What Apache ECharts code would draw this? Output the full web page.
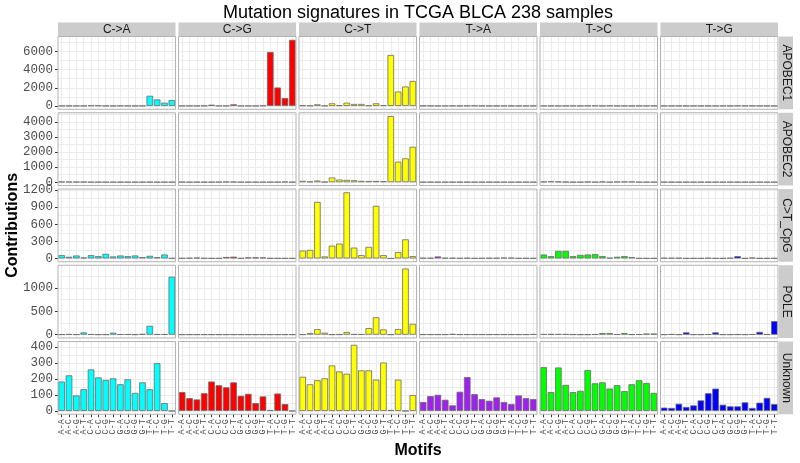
<!DOCTYPE html>
<html>
<head>
<meta charset="utf-8">
<script src="https://cdn.jsdelivr.net/npm/echarts@6/dist/echarts.min.js"></script>
<style>html,body{margin:0;padding:0;background:#fff}#chart{width:800px;height:463px}</style>
</head>
<body>
<div id="chart"></div>
<script>
// ---- categories / labels ----
const motifs = ["A-A","A-C","A-G","A-T","C-A","C-C","C-G","C-T","G-A","G-C","G-G","G-T","T-A","T-C","T-G","T-T"];
const mutations = ["C->A","C->G","C->T","T->A","T->C","T->G"];
const signatures = ["APOBEC1","APOBEC2","C>T_CpG","POLE","Unknown"];

// ---- values (rows = signatures, one array per mutation type) ----
const APOBEC1_CA = [10,8,10,8,45,40,10,8,25,10,8,10,1120,720,360,650];
const APOBEC1_CG = [15,10,10,20,140,15,10,180,10,10,15,40,5940,2030,870,7280];
const APOBEC1_CT = [60,30,180,30,290,80,360,220,220,60,290,80,5610,1590,2140,2750];
const APOBEC1_TA = [20,15,10,15,10,10,20,30,15,10,10,15,10,10,15,10];
const APOBEC1_TC = [15,10,10,10,15,10,20,35,10,30,10,15,10,10,15,20];
const APOBEC1_TG = [10,10,10,8,10,8,8,10,10,10,25,20,10,10,8,10];

const APOBEC2_CA = [30,30,20,25,10,10,10,10,15,10,10,10,15,10,10,10];
const APOBEC2_CG = [20,10,10,10,10,15,30,25,10,10,10,10,10,10,30,10];
const APOBEC2_CT = [90,45,110,20,310,175,155,130,90,80,80,70,4400,1365,1585,2355];
const APOBEC2_TA = [10,10,10,10,10,10,10,10,10,10,10,10,10,10,10,10];
const APOBEC2_TC = [40,60,50,20,10,10,30,10,40,10,30,40,35,10,10,10];
const APOBEC2_TG = [10,8,8,10,10,10,8,8,10,10,10,10,10,8,8,10];

const CpG_CA = [58,29,52,17,58,40,81,35,52,40,52,23,46,23,69,5];
const CpG_CG = [5,10,15,5,3,3,25,30,5,18,20,18,5,3,3,3];
const CpG_CT = [138,150,992,35,225,260,1160,190,58,202,923,58,0,110,335,40];
const CpG_TA = [10,10,35,10,10,5,10,5,5,8,8,15,12,5,5,5];
const CpG_TC = [69,40,133,133,40,63,69,75,40,12,29,40,23,3,3,3];
const CpG_TG = [10,10,10,3,3,3,8,3,3,10,40,3,15,3,3,3];

const POLE_CA = [5,10,5,49,8,3,3,42,8,8,3,15,190,10,10,1240];
const POLE_CG = [3,3,3,3,3,3,3,3,3,3,3,3,3,3,3,3];
const POLE_CT = [5,35,120,42,3,5,56,10,10,141,373,113,3,120,1415,232];
const POLE_TA = [5,5,5,5,15,5,5,5,5,5,5,5,5,5,5,10];
const POLE_TC = [10,12,12,10,5,3,3,8,35,35,8,35,5,8,25,25];
const POLE_TG = [3,10,3,50,3,3,8,50,3,3,5,3,8,60,10,290];

const Unknown_CA = [184,223,97,136,260,210,194,204,167,198,113,179,136,299,49,0];
const Unknown_CG = [118,80,72,111,184,161,148,179,95,107,49,91,6,109,43,0];
const Unknown_CT = [214,167,192,204,285,247,233,414,254,254,196,303,6,196,0,99];
const Unknown_TA = [56,93,101,70,35,120,212,105,74,64,85,56,43,97,80,74];
const Unknown_TC = [274,118,272,163,118,126,256,173,179,140,161,124,167,192,175,113];
const Unknown_TG = [21,19,45,25,35,66,111,140,39,29,29,54,19,52,82,43];

// ---- y tick labels per row ----
const ticksAPOBEC1 = [0,2000,4000,6000];
const ticksAPOBEC2 = [0,1000,2000,3000,4000];
const ticksCpG = [0,300,600,900,1200];
const ticksPOLE = [0,500,1000];
const ticksUnknown = [0,100,200,300,400];

const rowValues = [
  [APOBEC1_CA,APOBEC1_CG,APOBEC1_CT,APOBEC1_TA,APOBEC1_TC,APOBEC1_TG],
  [APOBEC2_CA,APOBEC2_CG,APOBEC2_CT,APOBEC2_TA,APOBEC2_TC,APOBEC2_TG],
  [CpG_CA,CpG_CG,CpG_CT,CpG_TA,CpG_TC,CpG_TG],
  [POLE_CA,POLE_CG,POLE_CT,POLE_TA,POLE_TC,POLE_TG],
  [Unknown_CA,Unknown_CG,Unknown_CT,Unknown_TA,Unknown_TC,Unknown_TG]
];
const rowTicks = [ticksAPOBEC1,ticksAPOBEC2,ticksCpG,ticksPOLE,ticksUnknown];

// ---- styles / layout ----
const colors = ['#00FFFF','#FF0000','#FFFF00','#A020F0','#00FF00','#0000FF'];
const L = {left0:58, colStep:120.5, panelW:117.5, top0:36.5, rowStep:76.25, panelH:72.75,
           stripTop:22.5, stripH:13.5, rstripX:779, rstripW:14};
const gridColor = '#ebebeb';
const tickTextColor = '#4d4d4d';

const grids = [], xAxes = [], yAxes = [], series = [], graphics = [];

for (let r = 0; r < signatures.length; r++) {
  const ticks = rowTicks[r];
  const majorStep = ticks[1] - ticks[0];
  let M = 0;
  rowValues[r].forEach(a => a.forEach(v => { if (v > M) M = v; }));
  const top = L.top0 + r * L.rowStep;
  for (let c = 0; c < mutations.length; c++) {
    const left = L.left0 + c * L.colStep;
    // background panel (border, vertical grid lines, x labels)
    const bg = grids.length;
    grids.push({left, top, width:L.panelW, height:L.panelH, show:true,
      backgroundColor:'transparent', borderColor:'#b3b3b3', borderWidth:1, z:10});
    xAxes.push({type:'category', gridIndex:bg, data:motifs, boundaryGap:true,
      axisLine:{show:false},
      axisTick:{show:r===signatures.length-1, alignWithLabel:true, length:3, lineStyle:{color:'#333'}},
      axisLabel:{show:r===signatures.length-1, rotate:90, interval:0, hideOverlap:false,
        fontFamily:'Liberation Mono', fontSize:8.5, color:tickTextColor, margin:5},
      splitLine:{show:true, alignWithLabel:true, interval:0, lineStyle:{color:gridColor, width:1}}});
    yAxes.push({type:'value', gridIndex:bg, show:false});
    // data grid (from zero line to panel top)
    const dg = grids.length;
    const dataH = L.panelH * 1.05 / 1.1;
    grids.push({left, top, width:L.panelW, height:dataH, show:false});
    const dX = xAxes.length;
    xAxes.push({type:'category', gridIndex:dg, data:motifs, boundaryGap:true, show:false});
    const dY = yAxes.length;
    yAxes.push({type:'value', gridIndex:dg, min:0, max:1.05*M, interval:majorStep/2,
      axisLine:{show:false}, axisTick:{show:false}, axisLabel:{show:false},
      splitLine:{show:true, showMaxLine:false, lineStyle:{color:gridColor, width:1}}});
    if (c === 0) {
      yAxes.push({type:'value', gridIndex:dg, min:0, max:1.05*M, position:'left',
        axisLine:{show:false}, splitLine:{show:false},
        axisTick:{show:true, length:3, customValues:ticks, lineStyle:{color:'#333'}},
        axisLabel:{show:true, customValues:ticks, formatter:v => String(v),
          fontFamily:'Liberation Mono', fontSize:12.5, color:tickTextColor, margin:5}});
    }
    series.push({type:'bar', xAxisIndex:dX, yAxisIndex:dY, data:rowValues[r][c],
      barWidth:'90%', silent:true,
      itemStyle:{color:colors[c], borderColor:'#6b6b6b', borderWidth:0.8}});
  }
  // right strip
  graphics.push({type:'rect', shape:{x:L.rstripX, y:top, width:L.rstripW, height:L.panelH},
    style:{fill:'#cccccc'}});
  graphics.push({type:'text', x:L.rstripX + L.rstripW/2, y:top + L.panelH/2, rotation:-Math.PI/2,
    style:{text:signatures[r], fontSize:12, fontFamily:'Liberation Sans', fill:'#1a1a1a',
      align:'center', verticalAlign:'middle'}});
}
for (let c = 0; c < mutations.length; c++) {
  const left = L.left0 + c * L.colStep;
  graphics.push({type:'rect', shape:{x:left, y:L.stripTop, width:L.panelW, height:L.stripH},
    style:{fill:'#cccccc'}});
  graphics.push({type:'text', x:left + L.panelW/2, y:L.stripTop + L.stripH/2 + 0.5,
    style:{text:mutations[c], fontSize:12, fontFamily:'Liberation Sans', fill:'#1a1a1a',
      align:'center', verticalAlign:'middle'}});
}
const panelsCenterX = L.left0 + (5*L.colStep + L.panelW)/2;
const panelsCenterY = L.top0 + (4*L.rowStep + L.panelH)/2;
graphics.push({type:'text', x:panelsCenterX, y:13.5,
  style:{text:'Mutation signatures in TCGA BLCA 238 samples', fontSize:18, fontFamily:'Liberation Sans',
    fill:'#000', align:'center', verticalAlign:'middle'}});
graphics.push({type:'text', x:panelsCenterX, y:451,
  style:{text:'Motifs', fontSize:16, fontWeight:'bold', fontFamily:'Liberation Sans',
    fill:'#000', align:'center', verticalAlign:'middle'}});
graphics.push({type:'text', x:13, y:panelsCenterY, rotation:Math.PI/2,
  style:{text:'Contributions', fontSize:16, fontWeight:'bold', fontFamily:'Liberation Sans',
    fill:'#000', align:'center', verticalAlign:'middle'}});

const chart = echarts.init(document.getElementById('chart'), null, {renderer:'canvas'});
chart.setOption({
  backgroundColor:'#ffffff',
  animation:false,
  grid:grids, xAxis:xAxes, yAxis:yAxes, series,
  graphic:{elements:graphics}
});
</script>
</body>
</html>
